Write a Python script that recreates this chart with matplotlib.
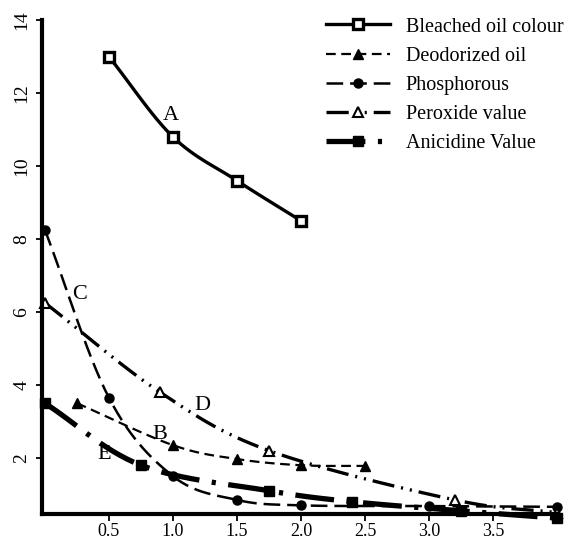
import numpy as np
import matplotlib.pyplot as plt

plt.rcParams['font.family'] = ['Liberation Serif', 'DejaVu Serif']
plt.rcParams['lines.scale_dashes'] = False

# values
x_bleach = [0.5, 1.0, 1.5, 2.0];            y_bleach = [13.0, 10.8, 9.6, 8.5]
x_deod = [0.25, 1.0, 1.5, 2.0, 2.5];        y_deod = [3.5, 2.35, 1.97, 1.8, 1.78]
x_phos = [0, 0.5, 1.0, 1.5, 2.0, 3.0, 4.0]; y_phos = [8.25, 3.65, 1.5, 0.85, 0.7, 0.68, 0.66]
x_perox = [0, 0.9, 1.75, 3.2, 4.0];         y_perox = [6.25, 3.8, 2.2, 0.85, 0.5]
x_anis = [0, 0.75, 1.75, 2.4, 3.25, 4.0];   y_anis = [3.5, 1.8, 1.1, 0.8, 0.55, 0.35]
xticks = [0.5, 1.0, 1.5, 2.0, 2.5, 3.0, 3.5]
yticks = [2, 4, 6, 8, 10, 12, 14]

def smooth(x, y, n=16):
    # catmull-rom through the points, points kept at every (n-1)th index
    x = np.asarray(x, float); y = np.asarray(y, float)
    px = np.r_[2*x[0]-x[1], x, 2*x[-1]-x[-2]]; py = np.r_[2*y[0]-y[1], y, 2*y[-1]-y[-2]]
    t = np.linspace(0, 1, n)[:-1]
    xs, ys = [], []
    for i in range(len(x)-1):
        for p, out in ((px, xs), (py, ys)):
            p0, p1, p2, p3 = p[i:i+4]
            out.extend(0.5*(2*p1 + (-p0+p2)*t + (2*p0-5*p1+4*p2-p3)*t**2 + (-p0+3*p1-3*p2+p3)*t**3))
    xs.append(x[-1]); ys.append(y[-1])
    return np.array(xs), np.array(ys), list(range(0, len(xs), n-1))

fig = plt.figure(figsize=(5.8, 5.45), dpi=100)
ax = fig.add_axes([0.0724, 0.056, 0.888, 0.907])

xs, ys, me = smooth(x_bleach, y_bleach)
ax.plot(xs, ys, 'k-', lw=2.4, marker='s', ms=6.5, mfc='white', mew=2.4, markevery=me, label='Bleached oil colour', clip_on=False)
xs, ys, me = smooth(x_deod, y_deod)
ax.plot(xs, ys, 'k', lw=1.6, dashes=(7, 4), marker='^', ms=7, markevery=me, label='Deodorized oil', clip_on=False)
xs, ys, me = smooth(x_phos, y_phos)
ax.plot(xs, ys, 'k', lw=1.8, dashes=(12, 5), marker='o', ms=6.5, markevery=me, label='Phosphorous', clip_on=False)
xs, ys, me = smooth(x_perox, y_perox)
ax.plot(xs, ys, 'k', lw=2.4, dashes=(16, 5, 1.5, 5, 1.5, 5), marker='^', ms=7, mfc='white', mew=1.5, markevery=me, label='Peroxide value', clip_on=False)
xs, ys, me = smooth(x_anis, y_anis)
ax.plot(xs, ys, 'k', lw=3.8, dashes=(28, 9, 3, 9), solid_capstyle='butt', dash_capstyle='butt', marker='s', ms=6.5, markevery=me, label='Anicidine Value', clip_on=False)

for s, xx, yy in [('A', 0.98, 11.4), ('B', 0.9, 2.63), ('C', 0.27, 6.47), ('D', 1.23, 3.45), ('E', 0.46, 2.1)]:
    ax.text(xx, yy, s, fontsize=16, ha='center', va='center')

ax.set_xlim(-0.023, 4.0); ax.set_ylim(0.45, 14.0)
ax.set_xticks(xticks); ax.set_xticklabels(['%.1f' % v for v in xticks], fontsize=13)
ax.set_yticks(yticks); ax.set_yticklabels([str(v) for v in yticks], fontsize=14, rotation=90, va='center')
ax.tick_params(axis='x', direction='out', length=5, width=1.3, pad=1)
ax.tick_params(axis='y', direction='out', length=4.5, width=1.3, pad=4)
for sp in ['top', 'right']: ax.spines[sp].set_visible(False)
for sp in ['left', 'bottom']: ax.spines[sp].set_linewidth(3)

fig.legend(loc='upper left', bbox_to_anchor=(0.562, 0.968), frameon=False, fontsize=14.5, handlelength=3.2,
           handletextpad=0.75, labelspacing=0.5, borderpad=0, borderaxespad=0)
fig.savefig('out.png', dpi=100)
